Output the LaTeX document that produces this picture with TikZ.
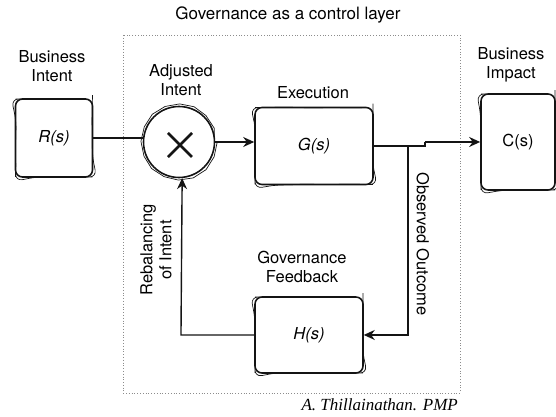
\documentclass[tikz,border=0pt]{standalone}
\usepackage{fontspec}
\setmainfont{TeX Gyre Heros}
\newfontfamily\signfont{Liberation Serif}
\usepackage{xcolor}
\definecolor{Ink}{RGB}{20,20,20}
\definecolor{Frame}{RGB}{140,140,140}
\usepackage{tikz}
\usetikzlibrary{arrows.meta}
\usetikzlibrary{decorations.pathmorphing}
\tikzstyle{Sketch}=[postaction={draw=Ink,line width=.7pt,decorate,
    decoration={random steps,segment length=14pt,amplitude=.5pt}}]
\tikzstyle{Box}=[draw=Ink,line width=1.6pt,rounded corners=7pt,inner sep=0pt,
    font=\fontsize{16.5}{19}\selectfont\itshape,Sketch]
\tikzstyle{Sum}=[circle,draw=Ink,line width=1.6pt,minimum size=71pt,Sketch]
\tikzstyle{Cross}=[draw=Ink,line width=2.6pt]
\tikzstyle{Wire}=[draw=Ink,line width=1.4pt]
\tikzstyle{Arrow}=[Wire,-{Stealth[length=11pt,width=10pt]}]
\tikzstyle{Label}=[font=\fontsize{16.5}{19}\selectfont,align=center,inner sep=0pt]

\begin{document}
\begin{tikzpicture}[xscale=.03515,yscale=-.03515]
        \useasboundingbox(0,0)rectangle(556,417);
        \pgfmathsetseed{7}
        % control layer frame
        \draw[Frame,line width=.8pt,dotted](123,35)rectangle(460,393);
        \node[Label,font=\fontsize{17}{20}\selectfont](title)at(288,15)
                {Governance as a control layer};
        % blocks
        \node[Box,minimum width=77pt,minimum height=78pt](R)at(54,138){R(s)};
        \node[Sum](sum)at(179,142){};
        \node[Box,minimum width=118pt,minimum height=77pt](G)at(314,146){G(s)};
        \node[Box,minimum width=74pt,minimum height=96pt,font=\fontsize{16.5}{19}\selectfont](C)
                at(518,142){C(s)};
        \node[Box,minimum width=108pt,minimum height=76pt](H)at(309,335){H(s)};
        \coordinate(x)at(180,145);
        \draw[Cross]([shift={(-12,-12)}]x)--([shift={(12,12)}]x);
        \draw[Cross]([shift={(-12,12)}]x)--([shift={(12,-12)}]x);
        % labels
        \node[Label](bi)at(52,66){Business\\Intent};
        \node[Label](ai)at(181,80){Adjusted\\Intent};
        \node[Label](ex)at(313,93){Execution};
        \node[Label](bp)at(511,65){Business\\Impact};
        \node[Label](gf)at(302,267){Governance\\Feedback};
        \node[Label,rotate=90](ri)at(156,250){Rebalancing\\of Intent};
        \node[Label,rotate=-90](oo)at(423,244){Observed Outcome};
        \node[anchor=east,inner sep=0pt,font=\signfont\itshape\fontsize{17}{20}\selectfont]
                (sig)at(458,405){A. Thillainathan. PMP};
        % forward path
        \coordinate(tap)at(408,146);
        \coordinate(jog)at(425,146);
        \coordinate(fb)at(181,335);
        \draw[Wire](R.east|-0,138)--(sum.west|-0,138);
        \draw[Arrow](sum.east|-0,142)--(G.west|-0,142);
        \draw[Wire](G.east)--(jog)--(jog|-C.west);
        \draw[Arrow](jog|-C.west)--(C.west);
        % feedback path
        \draw[Arrow](tap)--(tap|-H.east)--(H.east);
        \draw[Arrow](H.west)--(fb)--(sum.-85);
    \end{tikzpicture}
\end{document}
